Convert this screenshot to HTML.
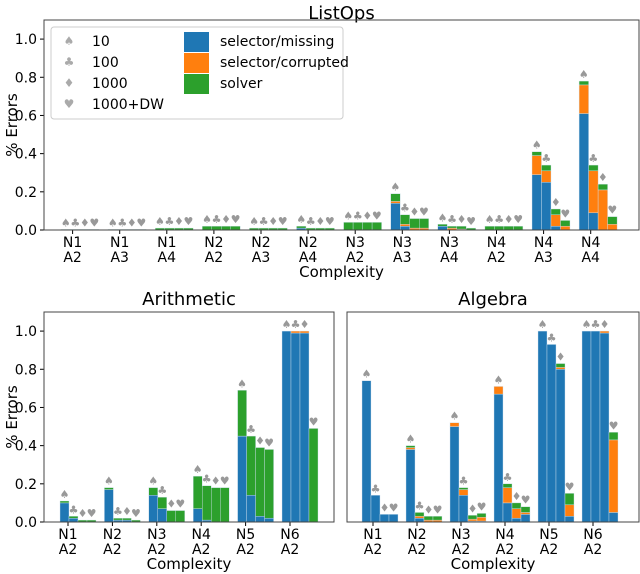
<!DOCTYPE html>
<html><head><meta charset="utf-8"><style>
body{margin:0;background:#fff;}
svg{display:block;font-family:"DejaVu Sans","Liberation Sans",sans-serif;}
</style></head><body>
<svg id="c" width="640" height="574" viewBox="0 0 640 574"></svg>
<script>
const suits=['♠','♣','♦','♥'];
const listopsCats=[['N1','A2'],['N1','A3'],['N1','A4'],['N2','A2'],['N2','A3'],['N2','A4'],['N3','A2'],['N3','A3'],['N3','A4'],['N4','A2'],['N4','A3'],['N4','A4']];
// per group: 4 bars each [missing, corrupted, solver]
const listopsVals=[
[[0,0,0.003],[0,0,0.003],[0,0,0.003],[0,0,0.003]],
[[0,0,0.003],[0,0,0.003],[0,0,0.003],[0,0,0.003]],
[[0,0,0.01],[0,0,0.01],[0,0,0.01],[0,0,0.01]],
[[0,0,0.02],[0,0,0.02],[0,0,0.02],[0,0,0.02]],
[[0,0,0.01],[0,0,0.01],[0,0,0.01],[0,0,0.01]],
[[0.01,0,0.01],[0,0,0.01],[0,0,0.01],[0,0,0.01]],
[[0,0,0.04],[0,0,0.04],[0,0,0.04],[0,0,0.04]],
[[0.14,0.01,0.04],[0.02,0.01,0.05],[0,0.01,0.05],[0,0.01,0.05]],
[[0.02,0,0.01],[0,0.01,0.01],[0,0.005,0.015],[0,0,0.01]],
[[0,0,0.02],[0,0,0.02],[0,0,0.02],[0,0,0.02]],
[[0.29,0.10,0.02],[0.25,0.06,0.03],[0.02,0.06,0.03],[0,0.02,0.03]],
[[0.61,0.15,0.02],[0.09,0.22,0.03],[0,0.21,0.03],[0,0.03,0.04]]];
const arithCats=[['N1','A2'],['N2','A2'],['N3','A2'],['N4','A2'],['N5','A2'],['N6','A2']];
const arithVals=[
[[0.10,0,0.01],[0.02,0,0.01],[0,0,0.01],[0,0,0.01]],
[[0.17,0,0.01],[0.01,0,0.01],[0.01,0,0.01],[0,0,0.01]],
[[0.14,0,0.04],[0.07,0,0.06],[0,0,0.06],[0,0,0.06]],
[[0.07,0,0.17],[0.01,0,0.18],[0,0,0.18],[0,0,0.18]],
[[0.45,0,0.24],[0.14,0,0.31],[0.03,0,0.36],[0.02,0,0.36]],
[[1.0,0,0],[0.99,0.01,0],[0.99,0.01,0],[0,0,0.49]]];
const algCats=[['N1','A2'],['N2','A2'],['N3','A2'],['N4','A2'],['N5','A2'],['N6','A2']];
const algVals=[
[[0.74,0,0],[0.14,0,0],[0.04,0,0],[0.04,0,0]],
[[0.38,0.01,0.01],[0.02,0.01,0.02],[0,0.01,0.02],[0,0.01,0.02]],
[[0.50,0.02,0],[0.14,0.03,0.01],[0.005,0.01,0.02],[0.005,0.02,0.02]],
[[0.67,0.04,0],[0.10,0.08,0.02],[0.02,0.05,0.03],[0.04,0.01,0.03]],
[[1.0,0,0],[0.93,0,0],[0.80,0.01,0.02],[0.03,0.06,0.06]],
[[1.0,0,0],[1.0,0,0],[0.99,0.01,0],[0.05,0.38,0.04]]];
const yTicks=[0,0.2,0.4,0.6,0.8,1.0];
const colors=['#1f77b4','#ff7f0e','#2ca02c'];
const svg=document.getElementById('c');
const NS='http://www.w3.org/2000/svg';
function mk(t,a,txt){const e=document.createElementNS(NS,t);for(const k in a)e.setAttribute(k,a[k]);if(txt!==undefined)e.textContent=txt;svg.appendChild(e);return e;}

function panel(p){
  const yS=v=>p.y0-v*(p.y0-p.y1)/1.1;
  const t=mk('text',{x:(p.l+p.r)/2,y:p.titleY,'font-size':18,'text-anchor':'middle'},p.title);
  
  
  if(p.showY){
    yTicks.forEach(v=>{
      const y=yS(v);
      const ln=mk('line',{x1:p.l-4,x2:p.l,y1:y,y2:y,stroke:'#000'});
      
      
      const tx=mk('text',{x:p.l-7,y:y+5,'font-size':14,'text-anchor':'end'},v.toFixed(1));
      
      
    });
    const yl=mk('text',{x:0,y:0,'font-size':15,'text-anchor':'middle',transform:`translate(17,${(p.y0+p.y1)/2}) rotate(-90)`},'% Errors');
    
    
  }
  p.cats.forEach((c,i)=>{
    const cx=p.c0+i*p.step;
    const tk=mk('line',{x1:cx,x2:cx,y1:p.y0,y2:p.y0+4,stroke:'#000'});
    
    
    const l1=mk('text',{x:cx,y:p.y0+17,'font-size':14,'text-anchor':'middle'},c[0]);
    
    
    const l2=mk('text',{x:cx,y:p.y0+32,'font-size':14,'text-anchor':'middle'},c[1]);
    
    
    p.vals[i].forEach((b,k)=>{
      const bx=cx+p.off+k*p.bw;
      let acc=0;
      b.forEach((v,s)=>{
        if(v<=0)return;
        const r=mk('rect',{x:bx,y:yS(acc+v),width:p.bw,height:yS(acc)-yS(acc+v),fill:colors[s],stroke:'#cfe0ee','stroke-width':0.4});
        
        
        acc+=v;
      });
      const m=mk('text',{x:bx+p.bw/2,y:yS(acc)-3,'font-size':11,'text-anchor':'middle',fill:'#999'},suits[k]);
      
      
    });
  });
  const xl=mk('text',{x:(p.l+p.r)/2,y:p.y0+47,'font-size':15,'text-anchor':'middle'},'Complexity');
  
  
  const fr=mk('rect',{x:p.l,y:p.y1,width:p.r-p.l,height:p.y0-p.y1,fill:'none',stroke:'#444','stroke-width':1});
  
  
}
panel({id:'listops',title:'ListOps',titleY:19,l:44,r:639,y1:20,y0:230,cats:listopsCats,vals:listopsVals,c0:72.6,step:47.1,off:-11.6,bw:9.5,showY:true});
panel({id:'arithmetic',title:'Arithmetic',titleY:305,l:44,r:334,y1:312,y0:522,cats:arithCats,vals:arithVals,c0:68,step:44.4,off:-8,bw:9,showY:true});
panel({id:'algebra',title:'Algebra',titleY:305,l:347,r:639,y1:312,y0:522,cats:algCats,vals:algVals,c0:373,step:44,off:-11,bw:9,showY:false});

// legend
const lg=mk('rect',{x:51,y:27,width:292,height:92,fill:'#fff',stroke:'#ccc',rx:3});


const sl=['10','100','1000','1000+DW'];
sl.forEach((s,i)=>{
  const g=mk('text',{x:69,y:45+i*21,'font-size':12,'text-anchor':'middle',fill:'#aaa'},suits[i]);
  
  
  const t=mk('text',{x:92,y:46+i*21,'font-size':14},s);
  
  
});
['selector/missing','selector/corrupted','solver'].forEach((s,i)=>{
  const r=mk('rect',{x:184,y:32+i*21,width:25,height:20,fill:colors[i]});
  
  
  const t=mk('text',{x:220,y:46+i*21,'font-size':14},s);
  
  
});
</script>
</body></html>
